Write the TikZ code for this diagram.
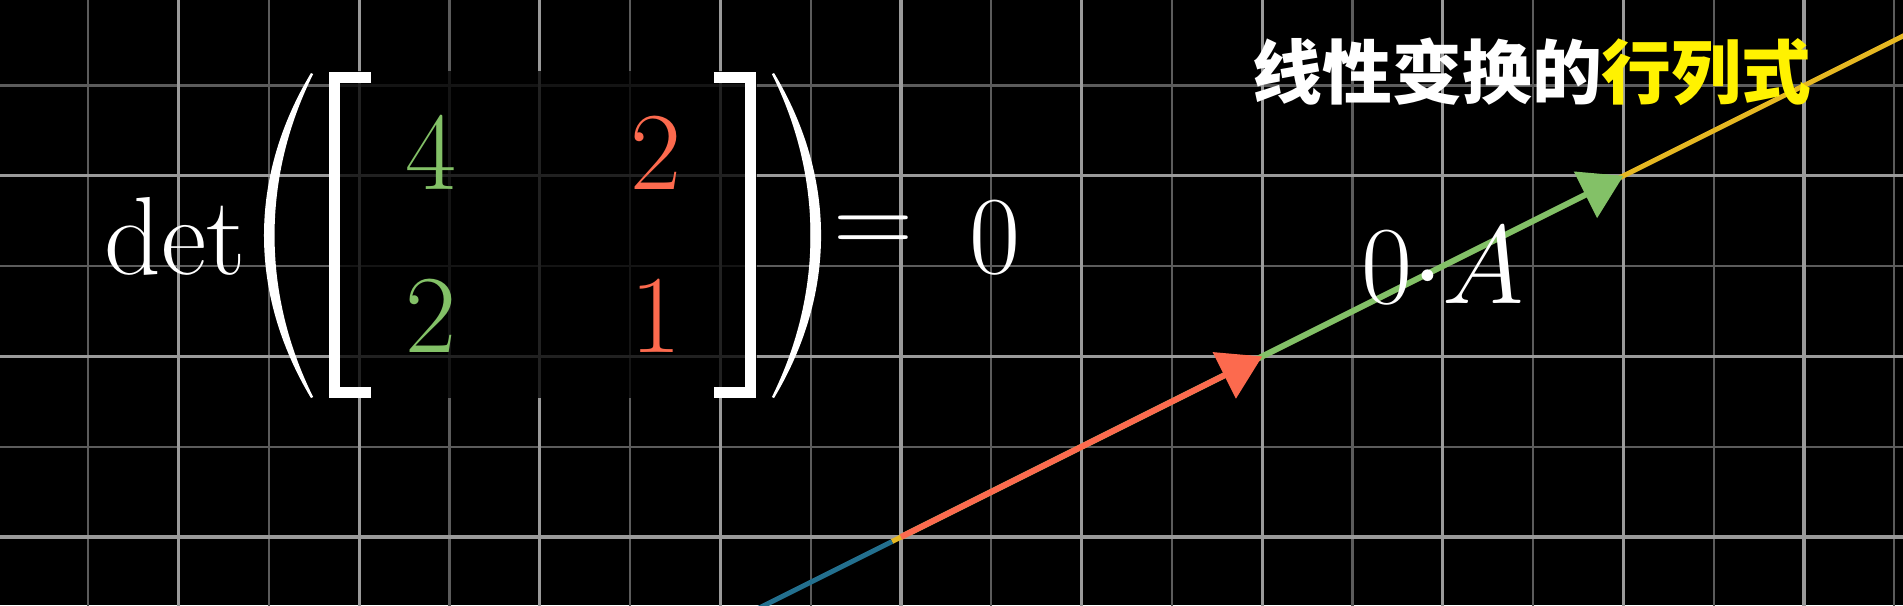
\RequirePackage{fix-cm}
\documentclass[tikz,border=0pt]{standalone}
\usepackage{amsmath}
\usepackage{fontspec}
\newfontfamily\cjk{Noto Sans CJK SC}
\usepackage{xcolor}
\usepackage{tikz}
\usetikzlibrary{arrows.meta,positioning}
\definecolor{gridbright}{HTML}{9A9A9A}
\definecolor{gridfaint}{HTML}{5C5C5C}
\definecolor{vgreen}{HTML}{83C167}
\definecolor{vorange}{HTML}{FC6A4E}
\definecolor{spanyellow}{HTML}{E6B822}
\definecolor{spanblue}{HTML}{23708F}
\definecolor{ttlyellow}{HTML}{FFF200}

\begin{document}
\begin{tikzpicture}[
    x=1cm,y=1cm,
    majgrid/.style = {gridbright, line width=0.035cm},
    mingrid/.style = {gridfaint, line width=0.025cm},
    spanln/.style  = {line width=0.055cm},
    vecarr/.style  = {line width=0.065cm,
                      -{Triangle[length=0.47cm,width=0.56cm]}},
    bigm/.style    = {font=\fontsize{35}{42}\selectfont, text=white,
                      inner sep=0pt},
    entry/.style   = {bigm, anchor=center},
    delim/.style   = {white, line width=0.122cm, line join=miter},
  ]

  % frame and background
  \useasboundingbox (-9.978,-0.753) rectangle (11.096,5.947);
  \fill[black] (-9.978,-0.753) rectangle (11.096,5.947);
  \clip (-9.978,-0.753) rectangle (11.096,5.947);

  % background grid
  \foreach \i in {-9,-7,...,11}
    \draw[mingrid] (\i,-1) -- (\i,6.5);
  \foreach \j in {-1,1,3,5}
    \draw[mingrid] (-10.5,\j) -- (11.5,\j);
  \foreach \i in {-10,-8,...,10}
    \draw[majgrid] (\i,-1) -- (\i,6.5);
  \foreach \j in {0,2,4,6}
    \draw[majgrid] (-10.5,\j) -- (11.5,\j);

  % determinant formula
  \fill[black,opacity=0.78] (-6.34,1.54) rectangle (-1.60,5.16);

  \node[bigm,anchor=base east] (det) at (-7.25,2.91) {$\det$};

  \fill[white] (-6.534,5.138) .. controls (-7.228,3.98) and (-7.228,2.70) .. (-6.534,1.539)
       -- (-6.51,1.55) .. controls (-7.08,2.70) and (-7.08,3.98) .. (-6.51,5.127) -- cycle;
  \draw[delim] (-5.867,5.094) -- (-6.276,5.094) -- (-6.276,1.598) -- (-5.867,1.598);
  \draw[delim] (-2.073,5.094) -- (-1.664,5.094) -- (-1.664,1.598) -- (-2.073,1.598);
  \fill[white] (-1.406,5.138) .. controls (-0.712,3.98) and (-0.712,2.70) .. (-1.406,1.539)
       -- (-1.43,1.55) .. controls (-0.86,2.70) and (-0.86,3.98) .. (-1.43,5.127) -- cycle;

  \node[entry,text=vgreen]  (a11) at (-5.205,4.241) {$4$};
  \node[entry,text=vorange] (a12) at (-2.713,4.241) {$2$};
  \node[entry,text=vgreen]  (a21) at (-5.205,2.436) {$2$};
  \node[entry,text=vorange] (a22) at (-2.713,2.436) {$1$};

  \node[bigm] (eq)  at (-0.31,3.333) {$=$};
  \node[entry] (res) at (1.036,3.317) {$0$};

  % collapsed plane
  \coordinate (O)      at (0,0);
  \coordinate (jhat)   at (4,2);
  \coordinate (ihat)   at (8,4);
  \coordinate (farend) at (12,6);
  \coordinate (lowend) at (-2,-1);
  \coordinate (nearO)  at (-0.1,-0.05);

  \draw[spanln,spanyellow] (nearO) -- (farend);
  \draw[spanln,spanblue]   (lowend) -- (nearO);
  \draw[vecarr,vgreen]  (O) -- (ihat);
  \draw[vecarr,vorange] (O) -- (jhat);

  \node[bigm,anchor=base] (lbl) at (6.0,2.583) {$0{\cdot}A$};

  % title
  \node[font=\cjk\bfseries\fontsize{22}{26}\selectfont,text=white,inner sep=0pt]
       (ttl) at (6.988,5.15) {线性变换的\textcolor{ttlyellow}{行列式}};

\end{tikzpicture}
\end{document}
